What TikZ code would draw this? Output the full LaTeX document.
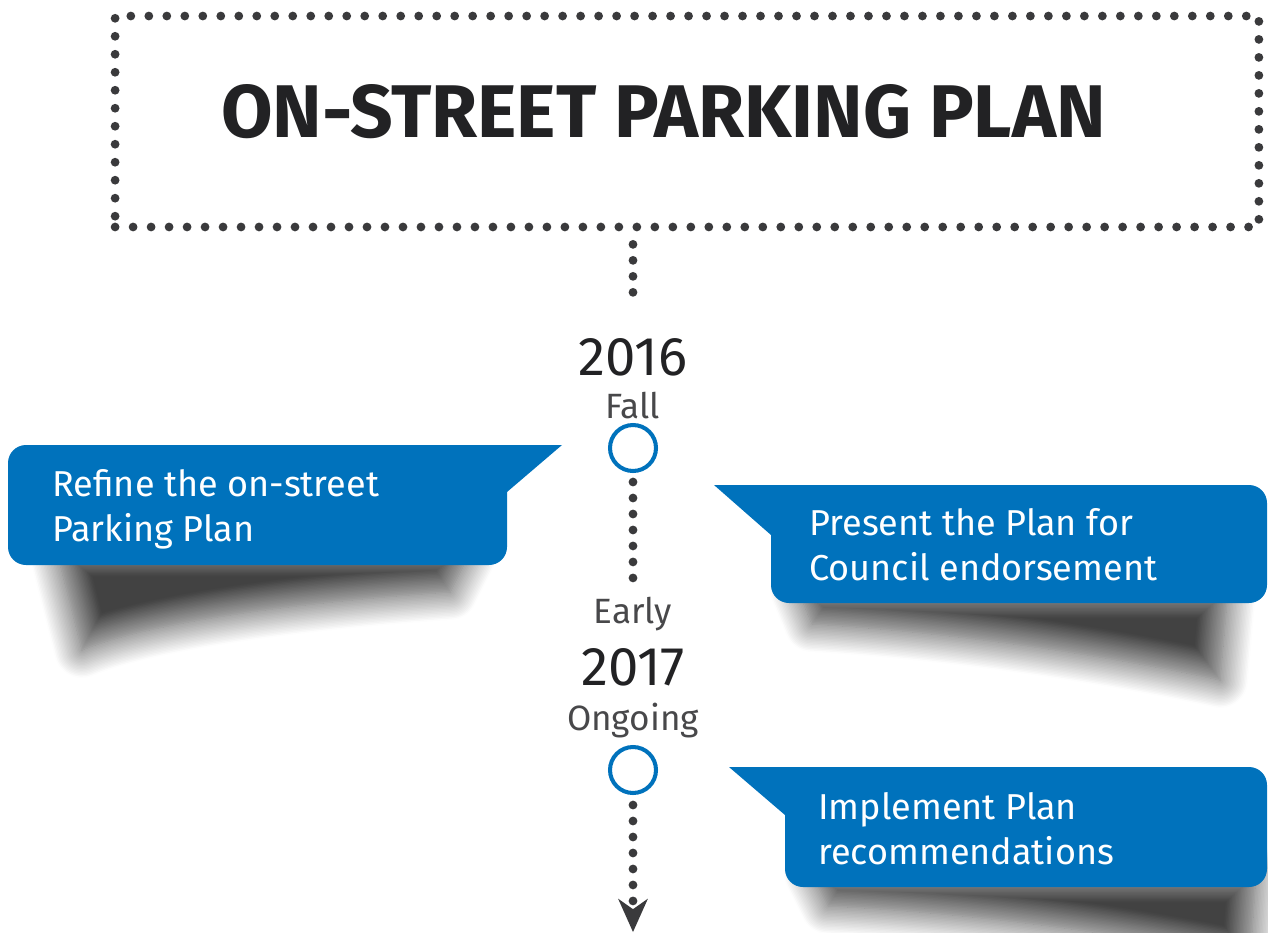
\documentclass[tikz,border=0pt]{standalone}
\usepackage{fontspec}
\setmainfont{Fira Sans}
\usetikzlibrary{arrows.meta,shadows.blur}
\definecolor{callblue}{RGB}{0,114,188}
\definecolor{dotgray}{RGB}{58,58,60}
\definecolor{yeargray}{RGB}{34,34,36}
\definecolor{seasongray}{RGB}{72,72,74}

\begin{document}
\begin{tikzpicture}[x=0.02cm,y=-0.02cm]
    \tikzstyle{titlebox}=[draw=dotgray,line width=5pt,line cap=round,dash pattern=on 0pt off 10.24pt,minimum width=22.88cm,minimum height=4.22cm,inner sep=0pt]
    \tikzstyle{tline}=[draw=dotgray,line width=5pt,line cap=round,dash pattern=on 0pt off 9.1pt]
    \tikzstyle{milestone}=[circle,draw=callblue,line width=2.3pt,fill=white,minimum size=0.92cm,inner sep=0pt]
    \tikzstyle{year}=[text=yeargray,inner sep=0pt,anchor=base,font=\fontsize{31}{34}\selectfont]
    \tikzstyle{season}=[text=seasongray,inner sep=0pt,anchor=base,font=\fontsize{20}{24}\selectfont]
    \tikzstyle{callout}=[fill=callblue,rounded corners=0.36cm]
    \tikzstyle{calltext}=[text=white,align=left,anchor=west,inner sep=0pt,font=\fontsize{20.5}{25.8}\selectfont]
    \tikzstyle{papershadow}=[blur shadow={shadow xshift=0pt,shadow yshift=0pt,shadow blur radius=0.56cm,shadow blur steps=20,shadow opacity=74}]

    \useasboundingbox (0,0) rectangle (1268,933);

    % title
    \node[titlebox] (title) at (687,121.5) {};
    \node[text=yeargray,anchor=base,inner sep=0pt,font=\bfseries\fontsize{42.5}{46}\selectfont] (titletext) at (663.5,137) {ON-STREET PARKING PLAN};

    % timeline labels
    \node[year] (yr16) at (633,375) {2016};
    \node[season] (fall16) at (633,418) {Fall};
    \node[milestone] (ms16) at (633,448) {};
    \node[season] (early17) at (633,623) {Early};
    \node[year] (yr17) at (633,685) {2017};
    \node[season] (ongoing17) at (633,730) {Ongoing};
    \node[milestone] (ms17) at (633,770) {};
    \coordinate (tlend) at (633,932);

    \draw[tline,shorten <=0.26cm,shorten >=0.66cm] (yr16 |- title.south) -- (yr16.north);
    \draw[tline,shorten <=0.18cm,shorten >=0.12cm] (ms16.south) -- (early17.north);
    \draw[tline,shorten <=0.2cm,-{Stealth[length=19pt,width=17pt,inset=6pt,line width=0pt]}] (ms17.south) -- (tlend);

    % shadows under the callouts
    \path[papershadow] (56,548) -- (472,548) -- (450,592) .. controls (300,602) and (150,622) .. (82,650) -- cycle;
    \path[papershadow] (798,590) -- (1228,590) -- (1220,680) .. controls (1100,654) and (950,632) .. (812,624) -- cycle;
    \path[papershadow] (812,874) -- (1256,874) -- (1250,960) .. controls (1120,932) and (960,912) .. (828,906) -- cycle;

    % callouts
    \fill[callout] (8,445) rectangle (507,565);
    \fill[callblue] (480,445) -- (562,445) -- (507,492) -- (480,492) -- cycle;
    \node[calltext] (refine) at (52,509) {Refine the on-street\\Parking Plan};

    \fill[callout] (771,485) rectangle (1267,603);
    \fill[callblue] (714,485) -- (800,485) -- (800,535) -- (771,535) -- cycle;
    \node[calltext] (present) at (809,545) {Present the Plan for\\Council endorsement};

    \fill[callout] (785,767) rectangle (1267,887);
    \fill[callblue] (729,767) -- (815,767) -- (815,815) -- (785,815) -- cycle;
    \node[calltext] (implement) at (818,828.5) {Implement Plan\\recommendations};
\end{tikzpicture}
\end{document}
